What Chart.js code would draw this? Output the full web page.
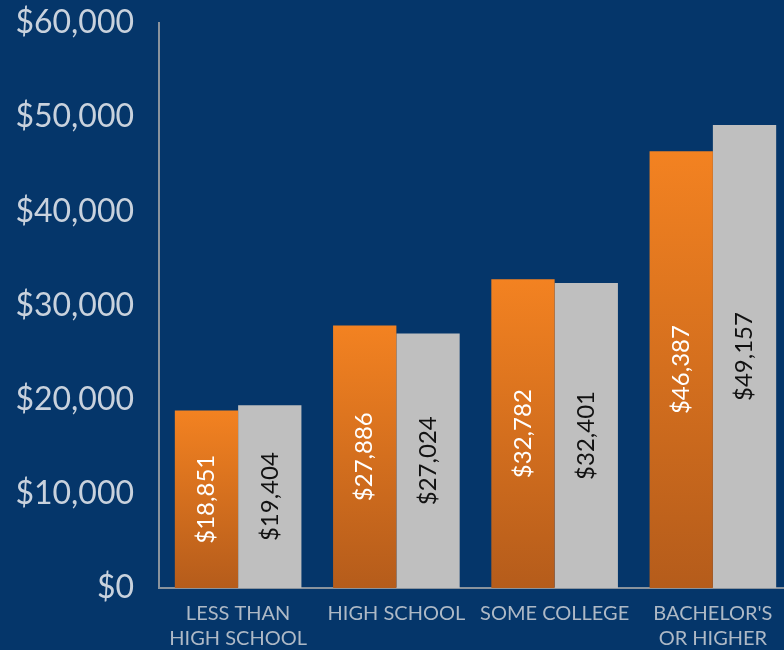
<!DOCTYPE html>
<html>
<head>
<meta charset="utf-8">
<script src="https://cdn.jsdelivr.net/npm/chart.js@4"></script>
<style>
    html, body { margin: 0; padding: 0; background: #05366a; overflow: hidden; }
    #wrap { width: 792px; height: 650px; }
</style>
</head>
<body>
<div id="wrap"><canvas id="earningsChart" width="792" height="650"></canvas></div>
<script>
const categories = [
    ['LESS THAN', 'HIGH SCHOOL'],
    'HIGH SCHOOL',
    'SOME COLLEGE',
    ['BACHELOR\'S', 'OR HIGHER'],
];
const orangeValues = [18851, 27886, 32782, 46387];
const grayValues = [19404, 27024, 32401, 49157];
const yTicks = [0, 10000, 20000, 30000, 40000, 50000, 60000];

const colors = {
    background: '#05366a',
    orangeTop: '#f38221',
    orangeBottom: '#b55c1b',
    gray: '#bfbfbf',
    axis: '#8a939d',
    tickText: '#c9d2dd',
    labelText: '#aeb9c6',
};

const money = new Intl.NumberFormat('en-US');

function orangeGradient(context) {
    const chart = context.chart;
    const yScale = chart.scales.y;
    if (!yScale || !context.parsed) return colors.orangeTop;
    const top = yScale.getPixelForValue(context.parsed.y);
    const base = yScale.getPixelForValue(0);
    if (!isFinite(top) || !isFinite(base) || top === base) return colors.orangeTop;
    const g = chart.ctx.createLinearGradient(0, top, 0, base);
    g.addColorStop(0, colors.orangeTop);
    g.addColorStop(1, colors.orangeBottom);
    return g;
}

// rotated value labels, centred in each bar
const barValueLabels = {
    id: 'barValueLabels',
    afterDatasetsDraw(chart) {
        const ctx = chart.ctx;
        chart.data.datasets.forEach((ds, i) => {
            const meta = chart.getDatasetMeta(i);
            meta.data.forEach((bar, j) => {
                const mid = (bar.y + bar.base) / 2;
                ctx.save();
                ctx.translate(bar.x, mid);
                ctx.rotate(-Math.PI / 2);
                ctx.font = '24px Lato';
                ctx.fillStyle = ds.labelColor;
                ctx.textAlign = 'center';
                ctx.textBaseline = 'middle';
                ctx.fillText('$' + money.format(ds.data[j]), 0, 0);
                ctx.restore();
            });
        });
    },
};

new Chart(document.getElementById('earningsChart'), {
    type: 'bar',
    data: {
        labels: categories,
        datasets: [
            {
                data: orangeValues,
                backgroundColor: orangeGradient,
                labelColor: '#ffffff',
                categoryPercentage: 0.8,
                barPercentage: 1.0,
            },
            {
                data: grayValues,
                backgroundColor: colors.gray,
                labelColor: '#111111',
                categoryPercentage: 0.8,
                barPercentage: 1.0,
            },
        ],
    },
    options: {
        responsive: false,
        animation: false,
        layout: { padding: { top: 23, right: 0, left: 0, bottom: 0 } },
        scales: {
            x: {
                grid: { display: false, drawTicks: false },
                border: { color: colors.axis, width: 2 },
                ticks: {
                    color: colors.labelText,
                    font: { family: 'Lato', size: 20, lineHeight: 1.25 },
                    padding: 13,
                    maxRotation: 0,
                    autoSkip: false,
                },
                afterFit(scale) { scale.height = 62; },
            },
            y: {
                min: 0,
                max: 60000,
                grid: { display: false, drawTicks: false },
                border: { color: colors.axis, width: 2 },
                afterBuildTicks(scale) {
                    scale.ticks = yTicks.map(v => ({ value: v }));
                },
                ticks: {
                    color: colors.tickText,
                    font: { family: 'Lato', size: 32 },
                    padding: 25,
                    callback: v => '$' + money.format(v),
                },
                afterFit(scale) {
                    scale.width = 159;
                    // let the top label sit above the plot edge
                    scale.paddingTop = 0;
                    scale.paddingBottom = 0;
                },
            },
        },
        plugins: {
            legend: { display: false },
            tooltip: { enabled: false },
        },
    },
    plugins: [barValueLabels],
});
</script>
</body>
</html>
